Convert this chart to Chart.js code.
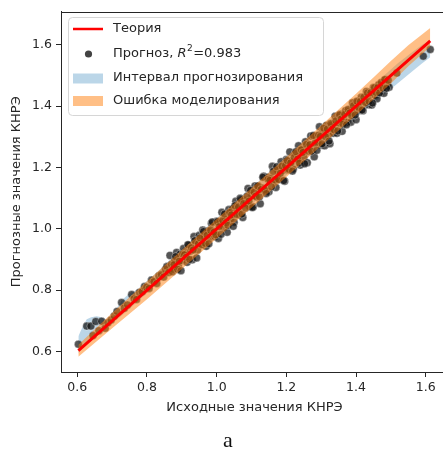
<!DOCTYPE html>
<html>
<head>
<meta charset="utf-8">
<script src="https://cdn.jsdelivr.net/npm/chart.js@4.4.0/dist/chart.umd.min.js"></script>
<style>
  html, body { margin: 0; padding: 0; background: #fff; overflow: hidden; }
  canvas { display: block; }
</style>
</head>
<body>
<canvas id="knre-chart" width="460" height="451"></canvas>
<script>
// source vs predicted KNRE values
const predX = [
  0.603, 0.627, 0.639, 0.645, 0.653, 0.662, 0.670, 0.680, 0.688, 0.697,
  0.706, 0.714, 0.727, 0.735, 0.744, 0.756, 0.763, 0.770, 0.778, 0.786,
  0.793, 0.799, 0.806, 0.813, 0.820, 0.828, 0.834, 0.841, 0.848, 0.853,
  0.857, 0.862, 0.866,
  0.870, 0.875, 0.880, 0.885, 0.890, 0.895, 0.900, 0.905, 0.910, 0.915,
  0.920, 0.925, 0.930, 0.935, 0.940, 0.945, 0.950, 0.955, 0.960, 0.965,
  0.970, 0.975, 0.980, 0.985, 0.990, 0.995, 1.000, 1.005, 1.010, 1.015,
  1.020, 1.025, 1.030, 1.035, 1.040, 1.045, 1.050, 1.055, 1.060, 1.065,
  1.070, 1.075, 1.080, 1.085, 1.090, 1.095, 1.100, 1.105, 1.110, 1.115,
  1.120, 1.125, 1.130, 1.135, 1.140, 1.145, 1.150, 1.155, 1.160, 1.165,
  1.170, 1.175, 1.180, 1.185, 1.190, 1.195, 1.200, 1.205, 1.210, 1.215,
  1.220, 1.225, 1.230, 1.235, 1.240, 1.245, 1.250, 1.255, 1.260, 1.265,
  1.270, 1.275, 1.280, 1.285, 1.290, 1.295, 1.300, 1.305, 1.310, 1.315,
  1.320, 1.325, 1.330, 1.335, 1.340, 1.345, 1.350, 1.355, 1.360, 1.365,
  1.370, 1.375, 1.380, 1.385, 1.390, 1.395, 1.400, 1.405, 1.410, 1.415,
  1.420, 1.425, 1.430, 1.435, 1.440, 1.445, 1.450, 1.455, 1.460, 1.465,
  1.470, 1.475, 1.480, 1.485, 1.490, 1.495, 1.517, 1.593, 1.613
];
const predY = [
  0.624, 0.683, 0.683, 0.652, 0.698, 0.668, 0.699, 0.676, 0.694, 0.703,
  0.716, 0.731, 0.760, 0.741, 0.752, 0.786, 0.772, 0.770, 0.793, 0.795,
  0.812, 0.810, 0.806, 0.833, 0.828, 0.822, 0.846, 0.851, 0.843, 0.868,
  0.877, 0.858, 0.913,
  0.884, 0.869, 0.897, 0.923, 0.880, 0.917, 0.897, 0.936, 0.918, 0.891,
  0.947, 0.928, 0.899, 0.975, 0.952, 0.931, 0.979, 0.950, 0.996, 0.974,
  0.943, 0.993, 0.971, 1.018, 0.992, 0.975, 1.025, 0.969, 1.021, 1.054,
  1.005, 1.029, 0.989, 1.063, 1.033, 1.065, 1.022, 1.090, 1.066, 1.047,
  1.094, 1.037, 1.093, 1.083, 1.132, 1.073, 1.107, 1.072, 1.140, 1.104,
  1.139, 1.082, 1.133, 1.172, 1.124, 1.168, 1.121, 1.165, 1.204, 1.157,
  1.135, 1.191, 1.161, 1.219, 1.191, 1.155, 1.226, 1.193, 1.251, 1.220,
  1.195, 1.246, 1.226, 1.271, 1.208, 1.259, 1.233, 1.284, 1.216, 1.273,
  1.303, 1.254, 1.235, 1.303, 1.284, 1.333, 1.273, 1.317, 1.271, 1.337,
  1.306, 1.278, 1.339, 1.312, 1.367, 1.312, 1.345, 1.374, 1.318, 1.353,
  1.385, 1.347, 1.383, 1.348, 1.411, 1.379, 1.356, 1.413, 1.386, 1.429,
  1.385, 1.416, 1.448, 1.405, 1.438, 1.404, 1.461, 1.436, 1.424, 1.470,
  1.444, 1.464, 1.442, 1.487, 1.469, 1.462, 1.508, 1.563, 1.585
];
// second half-step batch of the same test sample
const predX2 = [
  0.8725, 0.8775, 0.8825, 0.8875, 0.8925, 0.8975, 0.9025, 0.9075, 0.9125, 0.9175,
  0.9225, 0.9275, 0.9325, 0.9375, 0.9425, 0.9475, 0.9525, 0.9575, 0.9625, 0.9675,
  0.9725, 0.9775, 0.9825, 0.9875, 0.9925, 0.9975, 1.0025, 1.0075, 1.0125, 1.0175,
  1.0225, 1.0275, 1.0325, 1.0375, 1.0425, 1.0475, 1.0525, 1.0575, 1.0625, 1.0675,
  1.0725, 1.0775, 1.0825, 1.0875, 1.0925, 1.0975, 1.1025, 1.1075, 1.1125, 1.1175,
  1.1225, 1.1275, 1.1325, 1.1375, 1.1425, 1.1475, 1.1525, 1.1575, 1.1625, 1.1675,
  1.1725, 1.1775, 1.1825, 1.1875, 1.1925, 1.1975, 1.2025, 1.2075, 1.2125, 1.2175,
  1.2225, 1.2275, 1.2325, 1.2375, 1.2425, 1.2475, 1.2525, 1.2575, 1.2625, 1.2675,
  1.2725, 1.2775, 1.2825, 1.2875, 1.2925, 1.2975, 1.3025, 1.3075, 1.3125, 1.3175,
  1.3225, 1.3275, 1.3325, 1.3375, 1.3425, 1.3475, 1.3525, 1.3575, 1.3625, 1.3675,
  1.3725, 1.3775, 1.3825, 1.3875, 1.3925, 1.3975, 1.4025, 1.4075, 1.4125, 1.4175,
  1.4225, 1.4275, 1.4325, 1.4375, 1.4425, 1.4475, 1.4525, 1.4575, 1.4625, 1.4675,
  1.4725, 1.4775, 1.4825, 1.4875, 1.4925
];
const predY2 = [
  0.8605, 0.8835, 0.9095, 0.8685, 0.8945, 0.8635, 0.9175, 0.9155, 0.9075, 0.9485,
  0.9005, 0.9385, 0.9315, 0.9615, 0.9055, 0.9515, 0.9705, 0.9485, 0.9915, 0.9525,
  0.9795, 0.9515, 0.9955, 1.0225, 0.9895, 0.9805, 1.0235, 1.0075, 0.9825, 1.0275,
  1.0485, 1.0205, 1.0115, 1.0535, 1.0455, 1.0085, 1.0755, 1.0465, 1.0715, 1.0995,
  1.0485, 1.0825, 1.0685, 1.1065, 1.0905, 1.1255, 1.0695, 1.1195, 1.1065, 1.1395,
  1.1045, 1.1285, 1.1685, 1.1275, 1.1155, 1.1615, 1.1585, 1.1375, 1.1875, 1.1595,
  1.2025, 1.1615, 1.1815, 1.2045, 1.1575, 1.2065, 1.2225, 1.1945, 1.2155, 1.1885,
  1.2335, 1.2515, 1.2275, 1.2145, 1.2575, 1.2495, 1.2125, 1.2755, 1.2535, 1.2745,
  1.2535, 1.3045, 1.2795, 1.2565, 1.3055, 1.3015, 1.2775, 1.3285, 1.3005, 1.3255,
  1.2865, 1.3435, 1.3255, 1.3225, 1.3525, 1.3195, 1.3715, 1.3585, 1.3415, 1.3735,
  1.3395, 1.3895, 1.3785, 1.3695, 1.4015, 1.3715, 1.4165, 1.3965, 1.4155, 1.3875,
  1.4295, 1.4115, 1.4435, 1.4155, 1.4445, 1.4105, 1.4605, 1.4445, 1.4615, 1.4435,
  1.4775, 1.4585, 1.4865, 1.4585, 1.4845
];

// y = x reference line
const theoryX = [0.603, 1.613];
const theoryY = [0.603, 1.613];

// prediction interval (blue band)
const bandX = [0.603, 0.615, 0.627, 0.640, 0.655, 0.670, 0.685, 0.700, 0.715, 0.730,
               0.750, 0.770, 0.790, 0.810, 0.830, 0.850, 0.870, 0.900, 0.950, 1.000,
               1.050, 1.100, 1.150, 1.200, 1.250, 1.300, 1.350, 1.400, 1.450, 1.500,
               1.520, 1.560, 1.590, 1.613];
const intervalLow = [0.595, 0.610, 0.625, 0.635, 0.650, 0.660, 0.675, 0.690, 0.705, 0.720,
                     0.740, 0.760, 0.780, 0.800, 0.822, 0.842, 0.862, 0.890, 0.938, 0.985,
                     1.033, 1.080, 1.128, 1.176, 1.224, 1.270, 1.318, 1.364, 1.410, 1.456,
                     1.475, 1.512, 1.540, 1.560];
const intervalHigh = [0.650, 0.680, 0.705, 0.712, 0.715, 0.712, 0.700, 0.705, 0.745, 0.770,
                      0.790, 0.800, 0.820, 0.840, 0.860, 0.880, 0.905, 0.935, 0.985, 1.035,
                      1.085, 1.135, 1.185, 1.235, 1.285, 1.330, 1.378, 1.425, 1.470, 1.520,
                      1.540, 1.575, 1.600, 1.615];

// modelling error (orange band)
const errX = [0.603, 0.700, 0.800, 0.900, 1.000, 1.100, 1.200, 1.300, 1.350, 1.400,
              1.450, 1.500, 1.550, 1.613];
const errLow = [0.583, 0.676, 0.771, 0.869, 0.969, 1.069, 1.169, 1.271, 1.321, 1.371,
                1.422, 1.474, 1.530, 1.594];
const errHigh = [0.622, 0.726, 0.829, 0.931, 1.032, 1.133, 1.234, 1.337, 1.389, 1.441,
                 1.494, 1.547, 1.599, 1.655];

const xTicks = [0.6, 0.8, 1.0, 1.2, 1.4, 1.6];
const yTicks = [0.6, 0.8, 1.0, 1.2, 1.4, 1.6];

const FONT = 'DejaVu Sans';
const INK = '#262626';

function pairs(xs, ys) {
    return xs.map((x, i) => ({ x: x, y: ys[i] }));
}

// top spine (right one sits past the visible edge)
const frame = {
    id: 'frame',
    afterDraw(chart) {
        const { ctx, chartArea: a } = chart;
        ctx.save();
        ctx.strokeStyle = INK;
        ctx.lineWidth = 1;
        ctx.beginPath();
        ctx.moveTo(a.left, Math.round(a.top) + 0.5);
        ctx.lineTo(a.right, Math.round(a.top) + 0.5);
        ctx.lineTo(a.right, a.bottom);
        ctx.stroke();
        ctx.restore();
    }
};

const legendBox = {
    id: 'legendBox',
    afterDraw(chart) {
        const ctx = chart.ctx;
        const tx = 113;
        ctx.save();
        ctx.beginPath();
        ctx.roundRect(68.5, 17.5, 255, 98, 4);
        ctx.fillStyle = 'rgba(255,255,255,0.8)';
        ctx.fill();
        ctx.strokeStyle = '#d6d6d6';
        ctx.lineWidth = 1;
        ctx.stroke();

        ctx.textBaseline = 'middle';
        ctx.fillStyle = INK;
        ctx.font = `13px "${FONT}"`;

        // Теория
        ctx.strokeStyle = 'rgb(255,0,0)';
        ctx.lineWidth = 2.5;
        ctx.beginPath();
        ctx.moveTo(73, 29);
        ctx.lineTo(103, 29);
        ctx.stroke();
        ctx.fillText('Теория', tx, 29);

        // Прогноз, R^2
        ctx.beginPath();
        ctx.arc(88.5, 54, 3.6, 0, Math.PI * 2);
        ctx.fillStyle = 'rgba(20,20,20,0.8)';
        ctx.fill();
        ctx.fillStyle = INK;
        let x = tx;
        ctx.fillText('Прогноз, ', x, 54);
        x += ctx.measureText('Прогноз, ').width;
        ctx.font = `italic 13px "${FONT}"`;
        ctx.fillText('R', x, 54);
        x += ctx.measureText('R').width + 0.5;
        ctx.font = `9px "${FONT}"`;
        ctx.fillText('2', x, 49);
        x += ctx.measureText('2').width + 0.5;
        ctx.font = `13px "${FONT}"`;
        ctx.fillText('=0.983', x, 54);

        // bands
        ctx.fillStyle = 'rgba(31,119,180,0.3)';
        ctx.fillRect(73, 73.5, 30, 10);
        ctx.fillStyle = 'rgba(255,127,14,0.5)';
        ctx.fillRect(73, 96, 30, 10);
        ctx.fillStyle = INK;
        ctx.fillText('Интервал прогнозирования', tx, 78);
        ctx.fillText('Ошибка моделирования', tx, 101);

        // caption under the axes
        ctx.font = '22px "Liberation Serif"';
        ctx.textAlign = 'center';
        ctx.textBaseline = 'alphabetic';
        ctx.fillStyle = '#111';
        ctx.fillText('a', 228, 447);
        ctx.restore();
    }
};

const tickFont = { family: FONT, size: 12.5 };
const titleFont = { family: FONT, size: 13 };

new Chart(
    document.getElementById('knre-chart').getContext('2d'),
    {
        type: 'line',
        data: {
            datasets: [
                {
                    label: 'Теория',
                    data: pairs(theoryX, theoryY),
                    borderColor: 'rgb(255,0,0)',
                    borderWidth: 3,
                    pointRadius: 0,
                    fill: false,
                    order: 0,
                },
                {
                    label: 'err-low',
                    data: pairs(errX, errLow),
                    borderColor: 'rgba(0,0,0,0)',
                    borderWidth: 0,
                    pointRadius: 0,
                    fill: false,
                    order: 1,
                },
                {
                    label: 'Ошибка моделирования',
                    data: pairs(errX, errHigh),
                    borderColor: 'rgba(0,0,0,0)',
                    borderWidth: 0,
                    pointRadius: 0,
                    fill: '-1',
                    backgroundColor: 'rgba(255,127,14,0.5)',
                    order: 1,
                },
                {
                    type: 'scatter',
                    label: 'Прогноз',
                    data: pairs(predX.concat(predX2), predY.concat(predY2)),
                    pointRadius: 4,
                    pointBackgroundColor: 'rgba(20,20,20,0.72)',
                    pointBorderColor: 'rgba(255,255,255,0.6)',
                    pointBorderWidth: 0.6,
                    order: 2,
                },
                {
                    label: 'int-low',
                    data: pairs(bandX, intervalLow),
                    borderColor: 'rgba(0,0,0,0)',
                    borderWidth: 0,
                    pointRadius: 0,
                    fill: false,
                    order: 3,
                },
                {
                    label: 'Интервал прогнозирования',
                    data: pairs(bandX, intervalHigh),
                    borderColor: 'rgba(0,0,0,0)',
                    borderWidth: 0,
                    pointRadius: 0,
                    fill: '-1',
                    backgroundColor: 'rgba(31,119,180,0.3)',
                    order: 3,
                },
            ],
        },
        options: {
            responsive: false,
            animation: false,
            layout: { padding: { left: 0, top: 10, right: 12, bottom: 0 } },
            plugins: {
                legend: { display: false },
                tooltip: { enabled: false },
            },
            scales: {
                x: {
                    type: 'linear',
                    min: 0.5532,
                    max: 1.664,
                    afterBuildTicks: s => { s.ticks = xTicks.map(v => ({ value: v })); },
                    afterFit: s => { s.height = 79; },
                    ticks: {
                        callback: v => v.toFixed(1),
                        font: tickFont,
                        color: INK,
                        padding: 3,
                        maxRotation: 0,
                        autoSkip: false,
                    },
                    grid: { drawOnChartArea: false, tickLength: 5, color: INK, tickWidth: 1 },
                    border: { color: INK, width: 1 },
                    title: {
                        display: true,
                        text: 'Исходные значения КНРЭ',
                        font: titleFont,
                        color: INK,
                        padding: { top: 0, bottom: 36 },
                    },
                },
                y: {
                    type: 'linear',
                    min: 0.5334,
                    max: 1.7088,
                    afterBuildTicks: s => { s.ticks = yTicks.map(v => ({ value: v })); },
                    afterFit: s => { s.width = 61; },
                    ticks: {
                        callback: v => v.toFixed(1),
                        font: tickFont,
                        color: INK,
                        padding: 4,
                        autoSkip: false,
                    },
                    grid: { drawOnChartArea: false, tickLength: 5, color: INK, tickWidth: 1 },
                    border: { color: INK, width: 1 },
                    title: {
                        display: true,
                        text: 'Прогнозные значения КНРЭ',
                        font: titleFont,
                        color: INK,
                        padding: { top: 9, bottom: 0 },
                    },
                },
            },
        },
        plugins: [frame, legendBox],
    }
);
</script>
</body>
</html>
